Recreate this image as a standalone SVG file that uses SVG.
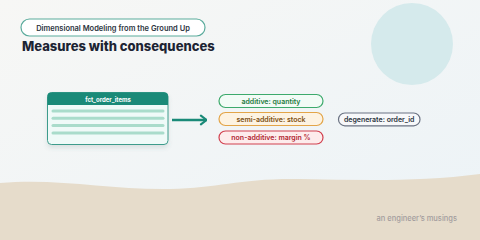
<svg xmlns="http://www.w3.org/2000/svg" width="480" height="240" viewBox="0 0 480 240">
<defs>
<linearGradient id="bg" x1="0" y1="0" x2="1" y2="1">
<stop offset="0" stop-color="#f7f7f5"/>
<stop offset="1" stop-color="#ecf3f7"/>
</linearGradient>
<marker id="chev" viewBox="0 0 10 14" refX="9" refY="7" markerWidth="3.2" markerHeight="4.5" orient="auto" markerUnits="strokeWidth">
<path d="M2,1.5 L9,7 L2,12.5" fill="none" stroke="#1a8a78" stroke-width="2.6" stroke-linecap="round" stroke-linejoin="round"/>
</marker>
<filter id="sh" x="-10%" y="-10%" width="120%" height="130%">
<feDropShadow dx="0" dy="3" stdDeviation="2" flood-color="#4a6a70" flood-opacity="0.15"/>
</filter>
</defs>
<style>
text{font-family:Inter,"Liberation Sans",sans-serif;}
.pill{stroke-width:1.2;}
.pt{font-size:7px;font-weight:600;text-anchor:middle;}
.row{stroke:#a9dccb;stroke-width:3;stroke-linecap:round;}
</style>
<rect width="480" height="240" fill="url(#bg)"/>
<circle cx="412" cy="44" r="41" fill="#d5eaec"/>
<path d="M0,183 C60,178 110,190 170,189 C220,188 240,178 300,179 C360,180 420,182 480,174 L480,240 L0,240 Z" fill="#e6dccb"/>
<g id="header">
<rect x="21" y="19" width="184" height="17" rx="8.5" fill="#ffffff" stroke="#5aab9c" stroke-width="1.2"/>
<text x="113" y="30.5" font-size="7.5" font-weight="600" text-anchor="middle" fill="#2c3440">Dimensional Modeling from the Ground Up</text>
<text x="22" y="50.5" font-size="13" font-weight="800" fill="#1c2433">Measures with consequences</text>
</g>
<g id="fct_order_items">
<rect x="47.5" y="92.5" width="120.5" height="52" rx="4" fill="#effaf8" stroke="#3d9c8c" stroke-width="1" filter="url(#sh)"/>
<path d="M47.5,105 V96.5 A4,4 0 0 1 51.5,92.5 H164 A4,4 0 0 1 168,96.5 V105 Z" fill="#1a8a78"/>
<text x="108" y="101.5" font-size="6" font-weight="700" text-anchor="middle" fill="#ffffff">fct_order_items</text>
<line class="row" x1="53" y1="111" x2="163" y2="111"/>
<line class="row" x1="53" y1="118.3" x2="163" y2="118.3"/>
<line class="row" x1="53" y1="125.6" x2="163" y2="125.6"/>
<line class="row" x1="53" y1="132.9" x2="163" y2="132.9"/>
</g>
<g id="connectors">
<line x1="172" y1="120" x2="206.5" y2="120" stroke="#1a8a78" stroke-width="2.5" marker-end="url(#chev)"/>
</g>
<g id="additive">
<rect class="pill" x="219" y="94.5" width="104" height="13" rx="6.5" fill="#f2fbf6" stroke="#3daa6c"/>
<text class="pt" x="271" y="103.6" fill="#257a3e">additive: quantity</text>
</g>
<g id="semi-additive">
<rect class="pill" x="219" y="112.5" width="104" height="13" rx="6.5" fill="#fdf3e2" stroke="#e3a548"/>
<text class="pt" x="271" y="121.6" fill="#7e4f10">semi-additive: stock</text>
</g>
<g id="non-additive">
<rect class="pill" x="219" y="131" width="104" height="13" rx="6.5" fill="#fdecec" stroke="#d2404f"/>
<text class="pt" x="271" y="140.1" fill="#b11f30">non-additive: margin %</text>
</g>
<g id="degenerate">
<rect class="pill" x="338.5" y="113" width="81.5" height="12.8" rx="6.4" fill="#f7f8fa" stroke="#6b7383"/>
<text class="pt" x="379.2" y="122" fill="#2c3440">degenerate: order_id</text>
</g>
<text x="457" y="220.5" font-size="7.5" font-weight="500" text-anchor="end" fill="#a39d9e">an engineer’s musings</text>
</svg>
